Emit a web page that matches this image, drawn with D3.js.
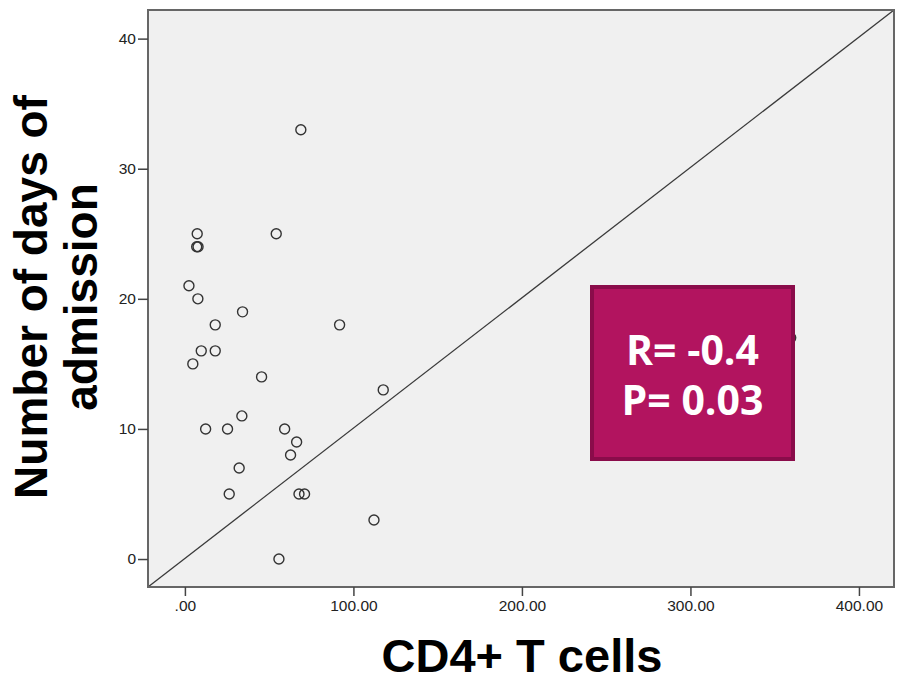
<!DOCTYPE html>
<html>
<head>
<meta charset="utf-8">
<script src="https://cdn.jsdelivr.net/npm/d3@7"></script>
<style>
  html, body { margin: 0; padding: 0; background: #ffffff; }
  svg { display: block; }
</style>
</head>
<body>
<svg id="chart" width="897" height="681"></svg>
<script>
// ---- data ----
const cd4 = [68.8, 54.2, 7.3, 7.0, 7.8, 2.4, 7.7, 34.2, 18.0, 91.8, 9.7, 18.0, 4.7, 45.5, 117.7, 33.8, 12.3, 25.3, 59.2, 66.3, 62.7, 32.2, 26.3, 67.7, 71.0, 112.2, 55.8, 359.5];
const days = [33, 25, 25, 24, 24, 21, 20, 19, 18, 18, 16, 16, 15, 14, 13, 11, 10, 10, 10, 9, 8, 7, 5, 5, 5, 3, 0, 17];
const xTicks = [0, 100, 200, 300, 400];
const yTicks = [0, 10, 20, 30, 40];
const xDomain = [-21.9, 420.8];
const yDomain = [-2.15, 42.2];
const xTitle = "CD4+ T cells";
const yTitleLines = ["Number of days of", "admission"];
const statLines = ["R= -0.4", "P= 0.03"];

// ---- layout ----
const svg = d3.select("#chart");
const L = 148, R = 894, T = 10, B = 587;
const x = d3.scaleLinear().domain(xDomain).range([L, R]);
const y = d3.scaleLinear().domain(yDomain).range([B, T]);

// plot background
svg.append("rect").attr("x", L).attr("y", T).attr("width", R - L).attr("height", B - T)
  .attr("fill", "#f0f0f0");

// reference diagonal (corner to corner)
svg.append("line")
  .attr("x1", x(xDomain[0])).attr("y1", y(yDomain[0]))
  .attr("x2", x(xDomain[1])).attr("y2", y(yDomain[1]))
  .attr("stroke", "#3a3a3a").attr("stroke-width", 1.3);

// points
svg.append("g").selectAll("circle").data(cd4.map((v, i) => [v, days[i]]))
  .join("circle")
  .attr("cx", d => x(d[0])).attr("cy", d => y(d[1])).attr("r", 5)
  .attr("fill", "none").attr("stroke", "#333").attr("stroke-width", 1.4);

// frame
svg.append("rect").attr("x", L).attr("y", T).attr("width", R - L).attr("height", B - T)
  .attr("fill", "none").attr("stroke", "#666").attr("stroke-width", 2);

// axes
const fontTick = "'Liberation Sans', Arial, sans-serif";
const xAxis = d3.axisBottom(x).tickValues(xTicks).tickSize(9).tickPadding(4)
  .tickFormat(d => d === 0 ? ".00" : d3.format(".2f")(d));
const gx = svg.append("g").attr("transform", `translate(0,${B})`).call(xAxis);
const yAxis = d3.axisLeft(y).tickValues(yTicks).tickSize(10).tickPadding(2).tickFormat(d3.format("d"));
const gy = svg.append("g").attr("transform", `translate(${L},0)`).call(yAxis);
[gx, gy].forEach(g => {
  g.select(".domain").remove();
  g.selectAll(".tick line").attr("stroke", "#444").attr("stroke-width", 1.5);
  g.selectAll(".tick text").attr("fill", "#222").attr("font-family", fontTick).attr("font-size", 15.5);
});

// axis titles
svg.append("text").attr("x", 522).attr("y", 672).attr("text-anchor", "middle")
  .attr("font-family", "'Liberation Sans', Arial, sans-serif").attr("font-weight", "bold")
  .attr("font-size", 47).attr("fill", "#000").text(xTitle);

const yt = svg.append("text").attr("transform", "translate(47,297) rotate(-90)")
  .attr("text-anchor", "middle")
  .attr("font-family", "'Liberation Sans', Arial, sans-serif").attr("font-weight", "bold")
  .attr("font-size", 46).attr("fill", "#000");
yTitleLines.forEach((t, i) => yt.append("tspan").attr("x", 0).attr("y", i * 50).text(t));

// stat box
svg.append("rect").attr("x", 592).attr("y", 287).attr("width", 201).attr("height", 172)
  .attr("fill", "#b2145f").attr("stroke", "#8a0c4a").attr("stroke-width", 4);
statLines.forEach((t, i) => {
  svg.append("text").attr("x", 692.5).attr("y", 364.5 + i * 50.5).attr("text-anchor", "middle")
    .attr("font-family", "'Open Sans', sans-serif").attr("font-weight", "bold")
    .attr("font-size", 41).attr("fill", "#ffffff").text(t);
});
</script>
</body>
</html>
